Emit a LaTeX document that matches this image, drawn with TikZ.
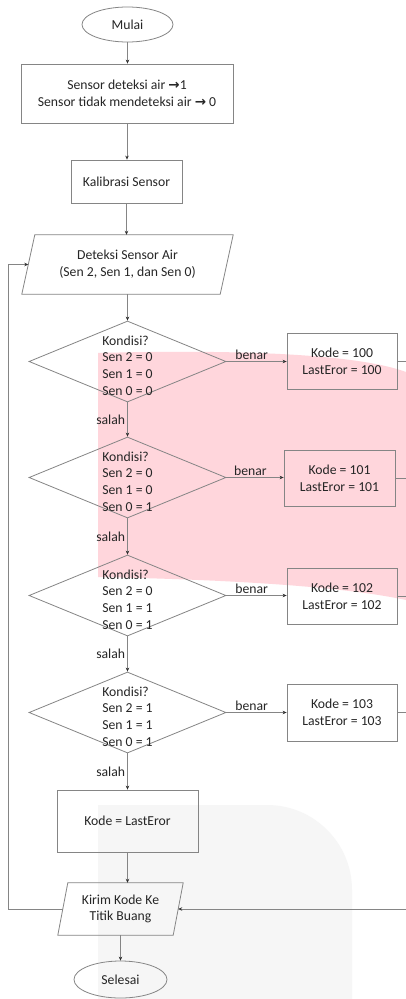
\documentclass[tikz,border=0pt]{standalone}
\usepackage{fontspec}
\setmainfont{Carlito}
\newfontfamily\symf{DejaVu Sans}
\usetikzlibrary{shapes.geometric,arrows.meta}
\definecolor{linec}{HTML}{858585}
\definecolor{tipc}{HTML}{303030}
\definecolor{txtc}{HTML}{262626}
\definecolor{pinkc}{HTML}{FFD6DC}
\definecolor{greyc}{HTML}{F6F6F6}
\newcommand{\rarr}{{\symf\bfseries\fontsize{13.5}{14}\selectfont →}}
\tikzset{
  every node/.style={text=txtc, font=\fontsize{13.7}{16.7}\selectfont},
  conn/.style={draw=linec, line width=0.8pt},
  arr/.style={conn, -{Stealth[length=4pt,width=3.5pt,color=tipc,fill=tipc]}},
  procbox/.style={draw=linec, line width=0.8pt, inner sep=0pt, align=center},
  termin/.style={ellipse, draw=linec, line width=0.8pt, inner sep=0pt},
  iobox/.style={inner sep=0pt, align=center},
  decis/.style={diamond, draw=linec, line width=0.8pt, inner sep=0pt, minimum width=197pt, minimum height=81pt},
  condtext/.style={align=left, inner sep=0pt},
  lbl/.style={inner sep=2pt}
}
\begin{document}
\begin{tikzpicture}[x=1pt,y=-1pt]
\fill[white] (0,0) rectangle (406,999);
\useasboundingbox (0,0) rectangle (406,999);
% background shapes
\fill[pinkc] (98,353) .. controls (250,349) and (360,355) .. (406,372) -- (406,600) .. controls (350,588) and (250,580) .. (98,577) -- cycle;
\fill[greyc] (98,999) -- (98,805) -- (267,805) .. controls (314,805) and (352,843) .. (352,890) -- (352,999) -- cycle;

\coordinate (rx) at (406,0);
\coordinate (lp) at (8,909);

\node[termin, minimum width=91pt, minimum height=35pt] (start) at (127.5,24.5) {Mulai};
\node[procbox, minimum width=212pt, minimum height=59pt] (b0) at (127,93.5)
  {Sensor deteksi air \rarr1\\Sensor tidak mendeteksi air \rarr{} 0};
\node[procbox, minimum width=111pt, minimum height=43pt] (kal) at (126.5,181.5) {Kalibrasi Sensor};
\node[iobox, minimum width=198pt, minimum height=59pt] (p1) at (127.5,264.5) {Deteksi Sensor Air\\(Sen 2, Sen 1, dan Sen 0)};
\draw[conn] ([xshift=6.5pt]p1.north west) -- ([xshift=6.5pt]p1.north east) -- ([xshift=-6.5pt]p1.south east) -- ([xshift=-6.5pt]p1.south west) -- cycle;

\node[decis] (d1) at (127.5,361.5) {};
\node[condtext] (t1) at ([yshift=-4pt]d1.center) {Kondisi?\\Sen 2 = 0\\Sen 1 = 0\\Sen 0 = 0};
\node[decis] (d2) at (127.5,477.5) {};
\node[condtext] (t2) at ([yshift=-4pt]d2.center) {Kondisi?\\Sen 2 = 0\\Sen 1 = 0\\Sen 0 = 1};
\node[decis] (d3) at (127.5,595.5) {};
\node[condtext] (t3) at ([yshift=-4pt]d3.center) {Kondisi?\\Sen 2 = 0\\Sen 1 = 1\\Sen 0 = 1};
\node[decis] (d4) at (127.5,712.5) {};
\node[condtext] (t4) at ([yshift=-4pt]d4.center) {Kondisi?\\Sen 2 = 1\\Sen 1 = 1\\Sen 0 = 1};

\node[procbox, minimum width=110pt, minimum height=56pt] (c1) at (342,361) {Kode = 100\\LastEror = 100};
\node[procbox, minimum width=111pt, minimum height=56pt] (c2) at (339.5,478) {Kode = 101\\LastEror = 101};
\node[procbox, minimum width=110pt, minimum height=56pt] (c3) at (342,596) {Kode = 102\\LastEror = 102};
\node[procbox, minimum width=110pt, minimum height=57pt] (c4) at (342,712.5) {Kode = 103\\LastEror = 103};

\node[procbox, minimum width=141pt, minimum height=62pt] (kl) at (127.5,821) {Kode = LastEror};
\node[iobox, minimum width=115pt, minimum height=52pt] (k) at (120.5,909) {Kirim Kode Ke\\Titik Buang};
\draw[conn] ([xshift=5pt]k.north west) -- ([xshift=5pt]k.north east) -- ([xshift=-5pt]k.south east) -- ([xshift=-5pt]k.south west) -- cycle;
\node[termin, minimum width=93pt, minimum height=37pt] (stop) at (120.5,979.5) {Selesai};

% vertical flow
\draw[arr] (start.south) -- (start.south |- b0.north);
\draw[arr] (b0.south) -- (b0.south |- kal.north);
\draw[arr] (kal.south) -- (kal.south |- p1.north);
\draw[arr] (p1.south) -- (d1.north);
\draw[arr] (d1.south) -- node[lbl, left] {salah} (d2.north);
\draw[arr] (d2.south) -- node[lbl, left] {salah} (d3.north);
\draw[arr] (d3.south) -- node[lbl, left] {salah} (d4.north);
\draw[arr] (d4.south) -- node[lbl, left] {salah} (kl.north);
\draw[arr] (kl.south) -- (kl.south |- k.north);
\draw[arr] (k.south) -- (stop.north);

% benar branches
\draw[arr] (d1.east) -- node[lbl, above, pos=0.42] {benar} (d1.east -| c1.west);
\draw[arr] (d2.east) -- node[lbl, above, pos=0.42] {benar} (d2.east -| c2.west);
\draw[arr] (d3.east) -- node[lbl, above, pos=0.42] {benar} (d3.east -| c3.west);
\draw[arr] (d4.east) -- node[lbl, above, pos=0.42] {benar} (d4.east -| c4.west);

% outgoing to the right edge
\draw[conn] (c1.east) -- (c1.east -| rx);
\draw[conn] (c2.east) -- (c2.east -| rx);
\draw[conn] (c3.east) -- (c3.east -| rx);
\draw[conn] (c4.east) -- (c4.east -| rx);
\draw[arr] (k.east -| rx) -- (k.east);

% loop back
\draw[arr] (k.west) -- (lp) |- (p1.west);
\end{tikzpicture}
\end{document}
